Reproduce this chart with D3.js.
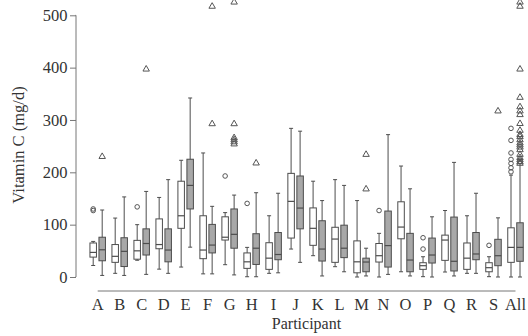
<!DOCTYPE html>
<html><head><meta charset="utf-8">
<script src="https://cdn.jsdelivr.net/npm/d3@7"></script>
<style>body{margin:0;background:#fff}svg{display:block}
text{font-family:"Liberation Serif","Times New Roman","DejaVu Serif",serif !important;}</style>
</head><body>
<svg id="c" width="528" height="336"></svg>
<script>
const categories = ["A","B","C","D","E","F","G","H","I","J","K","L","M","N","O","P","Q","R","S","All"];
// [whisker low, Q1, median, Q3, whisker high]
const whiteStats = [
  [22,38,47,65,68],[7,28,39.5,62,112.6],[32,34,50,70,100],[15,54,62,111,152],
  [19,93,117,183,223],[6,35,51.5,117,237],[23.5,70.6,76,115,123],[0.5,16.5,29,46,56.6],
  [7,14.6,36,65.5,117],[53.4,74.4,144.5,198,284],[40.7,60.5,93,132,183],[19.7,28,72.5,95,186],
  [0,8,29,69,146],[0,28.6,40.7,64,83.4],[10,73,95.4,143.7,212],[0.6,14.6,21.6,27.3,38.7],
  [9.5,31.8,70.6,80,127],[7,14.6,36,65,117],[0.6,10,17.8,27.3,38.7],[0,28,56.6,94,194.7]
];
const grayStats = [
  [3,31,52,76,128],[3,20,49,75,153],[5,42,64,92,163.5],[7,29,51.5,92,186],
  [57,130,175,225,342],[6,46,61,100.5,135],[4,55,81.5,130,156.5],[0.5,24,55,82.7,161],
  [8,33,43,85,160],[28,92,131.7,193,278.6],[2,30.5,53.4,107.5,146],[10,37,55,99,175],
  [2,10,28.6,36,55],[5,19,60,126,272],[2,10,32.4,83.4,168.5],[0,26.7,42,74.4,115],
  [2,11.5,30,114.5,219],[7,33,44,85,160],[0,21.6,40.7,72,113],[0,30,56.6,103.6,217]
];
const whiteOutliers = [
  [127,130],[],[134],[],[],[],[193],[140.6],[],[],[],[],[],[127],[],[53.4,75],[],[],[60.5],
  [201,208.6,217,224.6,237,261,284]
];
const grayOutliers = [
  [230],[],[397],[],[],[292.6,517],[254,258,262,266,292.6,525],[217.6],[],[],[],[],[168,234],[],[],[],[],[],[317],
  [217,220,224,228,234,243,248,252,256,262,268,272,280,293,310,317,325,343,397,517,525]
];
const yTicks = [0,100,200,300,400,500];

const svg = d3.select("#c");
const font = '"Liberation Serif","Times New Roman","DejaVu Serif",serif';
const x = d3.scalePoint().domain(categories).range([97.7, 515.5]);
const y = d3.scaleLinear().domain([0,500]).range([277, 15.3]);
const off = 4.5, bw = 6.5, cap = 4;
const stroke = "#4d4d4d";

// y axis
const ax = svg.append("g").attr("transform","translate(76,0)")
  .call(d3.axisLeft(y).tickValues(yTicks).tickSize(6).tickPadding(2.5));
ax.attr("font-family", null).attr("font-size", null);
ax.select(".domain").attr("stroke","#777").attr("d", `M-0.5,${y(500)}H0V${y(0)}H-0.5`);
ax.selectAll(".tick line").attr("stroke","#777");
ax.selectAll(".tick text").style("font-family",font).style("font-size","16.5px").attr("fill","#333");

svg.append("text").attr("transform",`translate(24,${145}) rotate(-90)`)
  .attr("text-anchor","middle").style("font-family",font).style("font-size","16.5px").attr("fill","#333")
  .text("Vitamin C (mg/d)");

// x baseline and labels
svg.append("line").attr("x1",x("A")).attr("x2",x("All")).attr("y1",291).attr("y2",291)
  .attr("stroke","#777").attr("stroke-width",1);
svg.append("g").selectAll("text").data(categories).join("text")
  .attr("x",d=>x(d)).attr("y",309.5).attr("text-anchor","middle")
  .style("font-family",font).style("font-size","16.5px").attr("fill","#333").text(d=>d);
svg.append("text").attr("x",306.5).attr("y",329).attr("text-anchor","middle")
  .style("font-family",font).style("font-size","16px").attr("fill","#333").text("Participant");

function drawBoxes(stats, outl, dx, fill, shape){
  const g = svg.append("g");
  stats.forEach((s,i)=>{
    const cx = x(categories[i]) + dx;
    const gg = g.append("g");
    gg.append("line").attr("x1",cx).attr("x2",cx).attr("y1",y(s[0])).attr("y2",y(s[4])).attr("stroke",stroke);
    gg.append("line").attr("x1",cx-cap/2).attr("x2",cx+cap/2).attr("y1",y(s[0])).attr("y2",y(s[0])).attr("stroke",stroke);
    gg.append("line").attr("x1",cx-cap/2).attr("x2",cx+cap/2).attr("y1",y(s[4])).attr("y2",y(s[4])).attr("stroke",stroke);
    gg.append("rect").attr("x",cx-bw/2).attr("width",bw).attr("y",y(s[3])).attr("height",y(s[1])-y(s[3]))
      .attr("fill",fill).attr("stroke",stroke);
    gg.append("line").attr("x1",cx-bw/2).attr("x2",cx+bw/2).attr("y1",y(s[2])).attr("y2",y(s[2])).attr("stroke",stroke).attr("stroke-width",1.2);
    outl[i].forEach(v=>{
      if(shape==="circle"){
        gg.append("circle").attr("cx",cx).attr("cy",y(v)).attr("r",2.3).attr("fill","none").attr("stroke","#555").attr("stroke-width",1);
      } else {
        gg.append("path").attr("d",d3.symbol(d3.symbolTriangle,18)()).attr("transform",`translate(${cx},${y(v)})`)
          .attr("fill","none").attr("stroke","#555").attr("stroke-width",1);
      }
    });
  });
}
drawBoxes(whiteStats, whiteOutliers, -off, "#fff", "circle");
drawBoxes(grayStats, grayOutliers, off, "#a8a8a8", "triangle");
</script>
</body></html>
